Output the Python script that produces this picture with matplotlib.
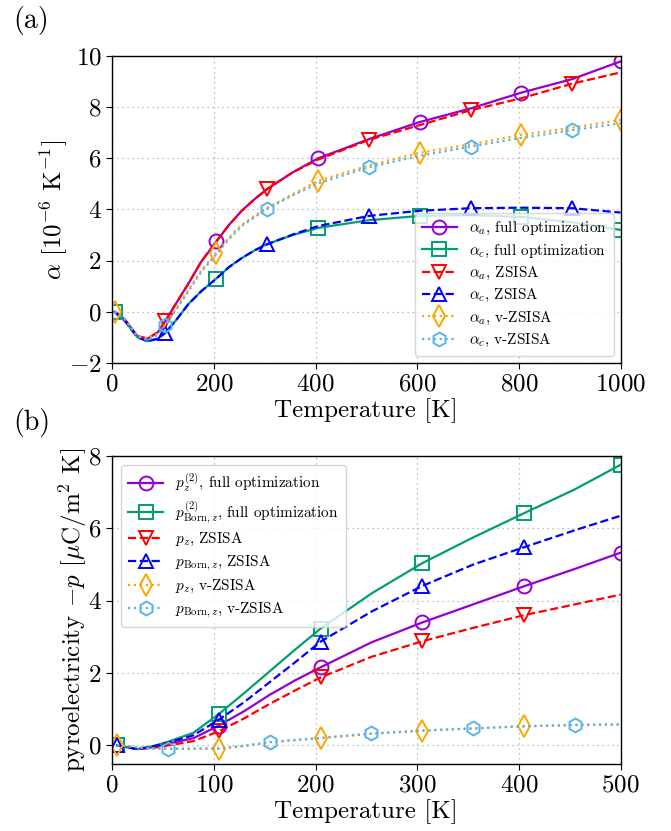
import matplotlib
matplotlib.use("Agg")
import matplotlib.pyplot as plt

plt.rcParams['font.family'] = ['cmr10', 'DejaVu Serif']
plt.rcParams['mathtext.fontset'] = 'cm'
plt.rcParams['axes.formatter.use_mathtext'] = True
plt.rcParams['axes.unicode_minus'] = True

# ---------- panel (a) data ----------
Ta = [5, 25, 50, 70, 90, 105, 125, 150, 175, 205, 230, 255, 280, 305, 355, 405, 505, 605, 705, 805, 905, 1000]
aa_full = [0.0, -0.3, -0.95, -1.05, -0.8, -0.35, 0.3, 1.1, 1.95, 2.75, 3.4, 3.95, 4.4, 4.8, 5.45, 6.0, 6.75, 7.42, 7.95, 8.57, 9.1, 9.79]
ac_full = [0.0, -0.35, -1.0, -1.15, -1.05, -0.8, -0.35, 0.3, 0.8, 1.3, 1.75, 2.1, 2.4, 2.65, 3.0, 3.28, 3.58, 3.75, 3.78, 3.71, 3.5, 3.2]
aa_zsisa = [0.0, -0.3, -0.95, -1.05, -0.8, -0.35, 0.3, 1.1, 1.95, 2.75, 3.4, 3.95, 4.4, 4.8, 5.45, 5.95, 6.72, 7.3, 7.88, 8.35, 8.92, 9.36]
ac_zsisa = [0.0, -0.35, -1.0, -1.15, -1.05, -0.82, -0.35, 0.3, 0.8, 1.3, 1.75, 2.1, 2.4, 2.64, 3.02, 3.35, 3.75, 3.95, 4.05, 4.07, 4.05, 3.88]
aa_v = [0.0, -0.3, -0.95, -1.05, -0.85, -0.5, 0.1, 0.85, 1.6, 2.29, 2.9, 3.4, 3.75, 4.06, 4.6, 5.12, 5.72, 6.22, 6.55, 6.92, 7.2, 7.5]
ac_v = [0.0, -0.3, -0.98, -1.1, -0.9, -0.52, 0.05, 0.8, 1.55, 2.25, 2.85, 3.35, 3.7, 4.03, 4.55, 5.02, 5.65, 6.1, 6.46, 6.8, 7.1, 7.37]

marks_a = {
    'aa_full': [205, 405, 605, 805, 1000],
    'ac_full': [5, 205, 405, 605, 805, 1000],
    'aa_zsisa': [105, 305, 505, 705, 905],
    'ac_zsisa': [105, 305, 505, 705, 905],
    'aa_v': [5, 205, 405, 605, 805, 1000],
    'ac_v': [105, 305, 505, 705, 905],
}

# ---------- panel (b) data ----------
Tb = [5, 15, 25, 40, 55, 80, 105, 130, 155, 180, 205, 255, 305, 355, 405, 455, 500]
pz_full = [0.0, -0.05, -0.1, -0.05, 0.05, 0.2, 0.55, 0.95, 1.4, 1.8, 2.16, 2.85, 3.4, 3.9, 4.4, 4.88, 5.33]
pb_full = [0.0, -0.05, -0.1, -0.02, 0.1, 0.35, 0.87, 1.45, 2.05, 2.65, 3.23, 4.2, 5.04, 5.75, 6.42, 7.08, 7.76]
pz_zsisa = [0.0, -0.05, -0.1, -0.07, 0.0, 0.12, 0.39, 0.75, 1.15, 1.52, 1.88, 2.45, 2.88, 3.25, 3.6, 3.9, 4.17]
pb_zsisa = [0.0, -0.05, -0.1, -0.03, 0.08, 0.28, 0.71, 1.2, 1.75, 2.3, 2.87, 3.7, 4.41, 5.0, 5.48, 5.95, 6.35]
pz_v = [0.0, -0.02, -0.05, -0.08, -0.09, -0.09, -0.09, -0.02, 0.09, 0.15, 0.2, 0.32, 0.41, 0.47, 0.53, 0.56, 0.58]
pb_v = [0.0, -0.02, -0.05, -0.08, -0.09, -0.09, -0.08, -0.01, 0.09, 0.15, 0.21, 0.33, 0.41, 0.47, 0.53, 0.57, 0.58]

marks_b = {
    'pz_full': [105, 205, 305, 405, 500],
    'pb_full': [5, 105, 205, 305, 405, 500],
    'pz_zsisa': [105, 205, 305, 405],
    'pb_zsisa': [5, 105, 205, 305, 405],
    'pz_v': [5, 105, 205, 305, 405],
    'pb_v': [55, 155, 255, 355, 455],
}

C_PURPLE = '#9400D3'
C_GREEN = '#009E73'
C_RED = '#FF0000'
C_BLUE = '#0000FF'
C_ORANGE = '#FFA500'
C_CYAN = '#56B4E9'

styles = [
    (C_PURPLE, '-', 'o'),
    (C_GREEN, '-', 's'),
    (C_RED, '--', 'v'),
    (C_BLUE, '--', '^'),
    (C_ORANGE, ':', 'd'),
    (C_CYAN, ':', 'h'),
]

fig = plt.figure(figsize=(6.71, 8.31), dpi=100)
axa = fig.add_axes([0.167, 0.5632, 0.758, 0.3694])
axb = fig.add_axes([0.167, 0.0812, 0.758, 0.370])

def draw(ax, T, series, marks, labels):
    for (y, key), lab, (c, ls, m) in zip(series, labels, styles):
        idx = [T.index(t) for t in marks[key]]
        ax.plot(T, y, color=c, ls=ls, lw=1.6, marker=m, markevery=idx,
                markersize=10 if m != 'd' else 11, markerfacecolor='none',
                markeredgewidth=1.4, label=lab)

labels_a = [r'$\alpha_a$, full optimization', r'$\alpha_c$, full optimization',
            r'$\alpha_a$, ZSISA', r'$\alpha_c$, ZSISA',
            r'$\alpha_a$, v-ZSISA', r'$\alpha_c$, v-ZSISA']
draw(axa, Ta, [(aa_full, 'aa_full'), (ac_full, 'ac_full'), (aa_zsisa, 'aa_zsisa'),
               (ac_zsisa, 'ac_zsisa'), (aa_v, 'aa_v'), (ac_v, 'ac_v')], marks_a, labels_a)

labels_b = [r'$p_z^{(2)}$, full optimization', r'$p_{\mathrm{Born},z}^{(2)}$, full optimization',
            r'$p_z$, ZSISA', r'$p_{\mathrm{Born},z}$, ZSISA',
            r'$p_z$, v-ZSISA', r'$p_{\mathrm{Born},z}$, v-ZSISA']
draw(axb, Tb, [(pz_full, 'pz_full'), (pb_full, 'pb_full'), (pz_zsisa, 'pz_zsisa'),
               (pb_zsisa, 'pb_zsisa'), (pz_v, 'pz_v'), (pb_v, 'pb_v')], marks_b, labels_b)

axa.set_xlim(0, 1000)
axa.set_ylim(-2, 10)
axa.set_xticks([0, 200, 400, 600, 800, 1000])
axa.set_yticks([-2, 0, 2, 4, 6, 8, 10])
axb.set_xlim(0, 500)
axb.set_ylim(-0.5, 8)
axb.set_xticks([0, 100, 200, 300, 400, 500])
axb.set_yticks([0, 2, 4, 6, 8])

for ax in (axa, axb):
    ax.grid(True, ls=(0, (1, 3)), color='#aaaaaa', lw=0.9)
    ax.tick_params(labelsize=18, length=4)
    ax.set_xlabel('Temperature [K]', fontsize=18, labelpad=2)
    for s in ax.spines.values():
        s.set_linewidth(1.0)

axa.set_ylabel(r'$\alpha$ [$10^{-6}$ K$^{-1}$]', fontsize=18, labelpad=-1)
axb.set_ylabel(r'pyroelectricity $-p$ [$\mu$C/m$^2$ K]', fontsize=18, labelpad=-1)

axa.legend(loc='lower right', fontsize=11, borderaxespad=0.45, handlelength=2.3,
           labelspacing=0.35, borderpad=0.45)
axb.legend(loc='upper left', fontsize=11, borderaxespad=0.6, handlelength=2.3,
           labelspacing=0.35, borderpad=0.45)

fig.text(0.02, 0.993, '(a)', fontsize=20, ha='left', va='top')
fig.text(0.02, 0.509, '(b)', fontsize=20, ha='left', va='top')

fig.savefig('out.png', dpi=100)
